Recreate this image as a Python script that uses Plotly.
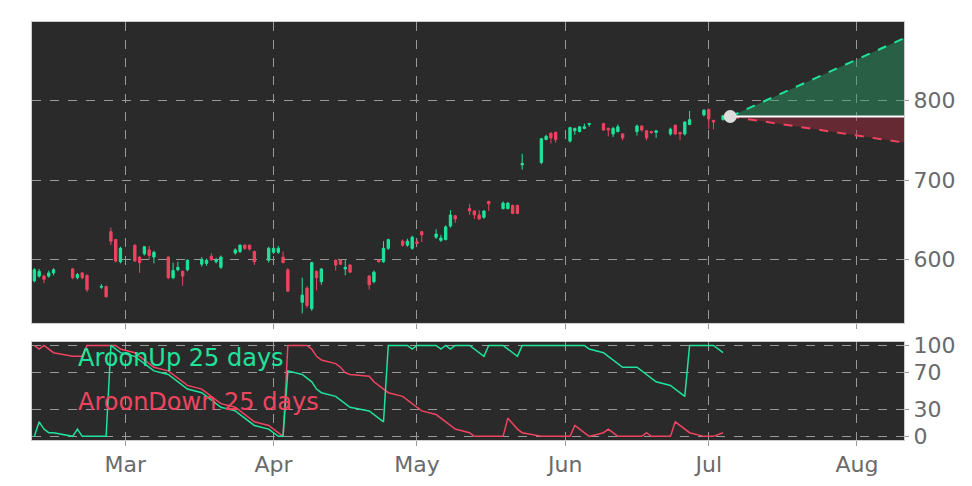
import pandas as pd
import plotly.graph_objects as go
from plotly.subplots import make_subplots

dates = (
    ["2019-02-11","2019-02-12","2019-02-13","2019-02-14","2019-02-15",
     "2019-02-19","2019-02-20","2019-02-21","2019-02-22",
     "2019-02-25","2019-02-26","2019-02-27","2019-02-28","2019-03-01",
     "2019-03-04","2019-03-05","2019-03-06","2019-03-07","2019-03-08",
     "2019-03-11","2019-03-12","2019-03-13","2019-03-14","2019-03-15",
     "2019-03-18","2019-03-19","2019-03-20","2019-03-21","2019-03-22",
     "2019-03-25","2019-03-26","2019-03-27","2019-03-28","2019-03-29",
     "2019-04-01","2019-04-02","2019-04-03","2019-04-04","2019-04-05",
     "2019-04-08","2019-04-09","2019-04-10","2019-04-11","2019-04-12",
     "2019-04-15","2019-04-16","2019-04-17","2019-04-18",
     "2019-04-22","2019-04-23","2019-04-24","2019-04-25","2019-04-26",
     "2019-04-29","2019-04-30","2019-05-01","2019-05-02","2019-05-03",
     "2019-05-06","2019-05-07","2019-05-08","2019-05-09","2019-05-10",
     "2019-05-13","2019-05-14","2019-05-15","2019-05-16","2019-05-17",
     "2019-05-20","2019-05-21","2019-05-22","2019-05-23","2019-05-24",
     "2019-05-28","2019-05-29","2019-05-30","2019-05-31",
     "2019-06-03","2019-06-04","2019-06-05","2019-06-06","2019-06-07",
     "2019-06-10","2019-06-11","2019-06-12","2019-06-13","2019-06-14",
     "2019-06-17","2019-06-18","2019-06-19","2019-06-20","2019-06-21",
     "2019-06-24","2019-06-25","2019-06-26","2019-06-27","2019-06-28",
     "2019-07-01","2019-07-02","2019-07-03","2019-07-05"])

open_ = [573,579,579,579,583, 588,577,583,580, 565,566,635,625,597,
         618,603,607,612,603, 603,577,587,585,587, 594,595,604,597,590,
         608,610,618,618,610, 599,609,609,603,587, 546,564,538,585,572,
         599,599,588,593, 579,572,599,597,614, 623,618,614,622,635,
         628,624,625,642,655, 664,661,656,653,673, 664,664,668,668,719,
         722,751,759,760, 749,762,761,765,770, 771,765,758,761,758,
         761,768,762,761,760, 758,769,760,758,770, 782,789,775,776]
high = [589,588,581,586,589, 589,583,584,581, 569,567,640,626,616,
        619,604,617,617,611, 604,596,597,586,600, 603,601,608,602,605,
        614,619,619,619,611, 616,616,617,610,589, 577,566,597,586,589,
        600,600,599,594, 580,586,600,623,626, 625,626,630,625,636,
        638,631,643,662,656, 670,662,662,662,674, 673,672,669,669,733,
        753,757,760,761, 767,766,768,771,772, 772,766,767,770,759,
        770,769,763,762,762, 766,770,760,774,787, 789,790,776,782]
low = [571,577,570,577,580, 575,575,575,559, 563,552,618,596,595,
       597,583,605,600,595, 575,575,585,567,585, 591,592,598,595,588,
       606,608,612,611,593, 596,607,607,595,559, 532,539,535,561,568,
       586,593,580,583, 562,570,596,596,612, 616,616,612,619,622,
       626,622,624,640,646, 656,651,650,651,661, 663,663,657,657,713,
       720,750,746,747, 747,757,760,764,767, 762,755,754,760,750,
       756,761,750,758,753, 756,757,750,756,769, 780,764,764,775]
close = [587,585,575,583,587, 577,581,577,562, 566,553,623,598,614,
         598,596,616,605,609, 577,586,590,579,599, 600,599,600,599,603,
         612,618,614,613,597, 614,614,614,596,560, 555,542,596,577,588,
         593,594,590,584, 568,584,597,614,625, 618,623,628,620,631,
         632,627,641,656,651, 661,656,651,661,670, 671,671,658,658,721,
         752,755,753,751, 766,765,767,767,771, 763,763,765,767,753,
         768,763,753,760,762, 764,758,758,773,776, 788,777,773,781]

aroon_up = [0,16,8,4,4, 0,8,0,0, 0,0,100,96,92,
            88,84,80,76,72, 68,64,60,56,52, 48,44,40,36,32, 28,24,20,16,12,
            8,4,0,0,72, 68,64,60,52,48, 44,40,36,32, 28,24,20,16,100,
            100,100,96,100,100, 100,96,100,96,100, 100,96,92,88,100,
            100,96,92,88,100, 100,100,100,100, 100,100,100,100,96,
            92,88,84,80,76, 76,72,68,64,60, 56,52,48,44,100, 100,100,100,92]
aroon_down = [100,96,100,96,92, 88,88,88,100, 100,100,100,100,96,
              92,88,84,80,76, 72,68,64,60,56, 52,48,44,40,36, 32,28,24,20,16,
              12,8,4,0,100, 100,100,96,88,84, 80,76,70,68, 66,60,56,52,48,
              44,40,36,32,28, 24,20,16,12,8, 4,0,0,0,0, 0,20,14,8,4,
              0,0,0,0, 0,12,8,4,0, 4,8,4,0,0, 0,0,4,0,0, 0,16,12,8,4, 0,0,0,4]

proj_dates = ["2019-07-05 12:00", "2019-08-11"]
proj_mid = [780, 780]
proj_upper = [780, 879]
proj_lower = [780, 747]

month_ticks = ["2019-03-01","2019-04-01","2019-05-01","2019-06-01","2019-07-01","2019-08-01"]
month_labels = ["Mar","Apr","May","Jun","Jul","Aug"]

GREEN = "#1fe39c"
RED = "#ee4460"
x = pd.to_datetime(dates) - pd.Timedelta(days=1)

fig = make_subplots(rows=2, cols=1, shared_xaxes=False, vertical_spacing=0.04,
                    row_heights=[0.75, 0.25])

fig.add_trace(go.Scatter(x=proj_dates, y=proj_mid, mode="lines",
                         line=dict(color="rgba(0,0,0,0)"), showlegend=False, hoverinfo="skip"), 1, 1)
fig.add_trace(go.Scatter(x=proj_dates, y=proj_upper, mode="lines", fill="tonexty",
                         fillcolor="rgba(40,160,100,0.45)",
                         line=dict(color=GREEN, width=2, dash="dash"), showlegend=False), 1, 1)
fig.add_trace(go.Scatter(x=proj_dates, y=proj_mid, mode="lines",
                         line=dict(color="rgba(0,0,0,0)"), showlegend=False, hoverinfo="skip"), 1, 1)
fig.add_trace(go.Scatter(x=proj_dates, y=proj_lower, mode="lines", fill="tonexty",
                         fillcolor="rgba(170,40,60,0.45)",
                         line=dict(color=RED, width=2, dash="dash"), showlegend=False), 1, 1)
fig.add_trace(go.Scatter(x=proj_dates, y=proj_mid, mode="lines",
                         line=dict(color="white", width=2), showlegend=False), 1, 1)

fig.add_trace(go.Candlestick(x=x, open=open_, high=high, low=low, close=close,
                             increasing=dict(line=dict(color=GREEN, width=1), fillcolor=GREEN),
                             decreasing=dict(line=dict(color=RED, width=1), fillcolor=RED),
                             whiskerwidth=0, showlegend=False), 1, 1)
fig.add_trace(go.Scatter(x=proj_dates[:1], y=proj_mid[:1], mode="markers",
                         marker=dict(color="#dddddd", size=13), showlegend=False), 1, 1)

fig.add_trace(go.Scatter(x=x, y=aroon_down, mode="lines", line=dict(color=RED, width=1.5),
                         showlegend=False), 2, 1)
fig.add_trace(go.Scatter(x=x, y=aroon_up, mode="lines", line=dict(color=GREEN, width=1.5),
                         showlegend=False), 2, 1)

xr = ["2019-02-09 12:00", "2019-08-10 20:00"]
axcommon = dict(range=xr, tickvals=month_ticks, showgrid=True, gridcolor="#999999",
                griddash="dash", gridwidth=1, ticks="outside", ticklen=5, tickcolor="#999999",
                showline=True, linecolor="#cccccc", mirror=True, zeroline=False)
fig.update_xaxes(**axcommon, row=1, col=1, showticklabels=False, rangeslider_visible=False)
fig.update_xaxes(**axcommon, row=2, col=1, ticktext=month_labels, showticklabels=True,
                 tickfont=dict(size=22, color="#6a6a6a", family="DejaVu Sans"))
ycommon = dict(side="right", showgrid=True, gridcolor="#999999", griddash="dash", gridwidth=1,
               ticks="outside", ticklen=4, tickcolor="#999999", zeroline=False,
               showline=True, linecolor="#cccccc", mirror=True,
               tickfont=dict(size=22, color="#6a6a6a", family="DejaVu Sans"))
fig.update_yaxes(**ycommon, row=1, col=1, range=[520, 899], tickvals=[600, 700, 800])
fig.update_yaxes(**ycommon, row=2, col=1, range=[-4, 104], tickvals=[0, 30, 70, 100])

fig.update_layout(
    width=972, height=486, margin=dict(l=24, r=76, t=5, b=54),
    paper_bgcolor="white", plot_bgcolor="#2a2a2a", showlegend=False,
    xaxis=dict(domain=[0, 1]), yaxis=dict(domain=[0.28, 1]), yaxis2=dict(domain=[0, 0.235]),
    annotations=[
        dict(text="AroonUp 25 days", xref="paper", yref="paper", x=0.05, y=0.195,
             xanchor="left", yanchor="middle", showarrow=False,
             font=dict(size=24, color=GREEN, family="DejaVu Sans")),
        dict(text="AroonDown 25 days", xref="paper", yref="paper", x=0.05, y=0.09,
             xanchor="left", yanchor="middle", showarrow=False,
             font=dict(size=24, color=RED, family="DejaVu Sans")),
    ],
)
fig.write_html("out.html")
